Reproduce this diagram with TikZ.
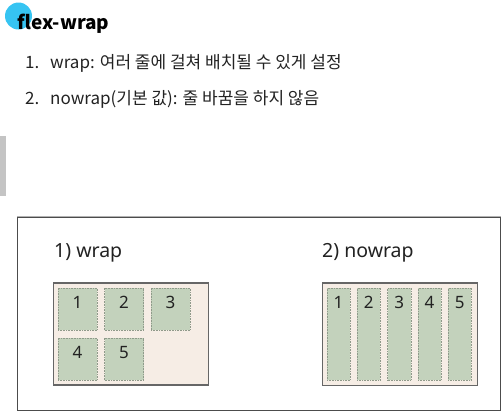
\documentclass[tikz,border=0pt]{standalone}
\usepackage{fontspec}
\setmainfont{Noto Sans}
\newfontfamily\kr{Noto Sans CJK KR}
\definecolor{titleblue}{HTML}{36C4F2}
\definecolor{barg}{HTML}{C4C4C4}
\definecolor{contfill}{HTML}{F6EDE5}
\definecolor{itemfill}{HTML}{C3D2BC}
\definecolor{itemline}{HTML}{8F9A8A}
\definecolor{txt}{HTML}{222222}
\begin{document}
\begin{tikzpicture}[x=1pt,y=-1pt,
  listtxt/.style={anchor=base west, inner sep=0pt, text=txt, font=\kr\fontsize{17}{20}\selectfont},
  cont/.style={draw=black!60, line width=1.2pt, fill=contfill, anchor=north west, inner sep=0pt},
  item/.style={draw=itemline, densely dotted, line width=0.6pt, fill=itemfill, anchor=north west, inner sep=0pt},
  num/.style={anchor=base, inner sep=0pt, text=txt, font=\fontsize{17}{20}\selectfont},
  caption/.style={anchor=base west, inner sep=0pt, text=txt, font=\fontsize{19.5}{23}\selectfont}]
\useasboundingbox (0,0) rectangle (504,413);
% title
\fill[titleblue] (18.5,16) circle (13.5);
\node[anchor=base west, inner sep=0pt, font=\kr\bfseries\fontsize{19}{23}\selectfont] (title) at (17,29) {flex-wrap};
% list
\node[listtxt] (n1) at (25,68) {1.};
\node[listtxt] (t1) at (50,68) {wrap: 여러 줄에 걸쳐 배치될 수 있게 설정};
\node[listtxt] (n2) at (25,104) {2.};
\node[listtxt] (t2) at (50,104) {nowrap(기본 값): 줄 바꿈을 하지 않음};
% gray bar
\fill[barg] (0,136) rectangle (6,196);
% outer box
\node[draw=black!70, line width=1.4pt, fill=white, anchor=north west, inner sep=0pt,
      minimum width=483, minimum height=193.5] (outer) at (17,216.5) {};
\draw[black!30, line width=1.4pt] (outer.north west) -- (outer.north east);
% captions
\node[caption] (c1) at (54,257) {1) wrap};
\node[caption] (c2) at (322,257) {2) nowrap};
% wrap container
\node[cont, minimum width=155, minimum height=102] (wc) at (52.7,282.3) {};
\foreach \n/\x/\y in {1/57.7/287.7, 2/104.3/287.7, 3/150.7/287.7, 4/57.7/337.7, 5/104.3/337.7}{
  \node[item, minimum width=39, minimum height=42.3] (w\n) at (\x,\y) {};
  \node[num] (wn\n) at ([yshift=-21pt]w\n.north) {\n};
}
% nowrap container
\node[cont, minimum width=155, minimum height=102.7] (nc) at (321.7,282.3) {};
\foreach \n/\x in {1/326.7, 2/356.9, 3/387.3, 4/417.7, 5/447.9}{
  \node[item, minimum width=23.2, minimum height=92.3] (u\n) at (\x,287.7) {};
  \node[num] (un\n) at ([yshift=-21pt]u\n.north) {\n};
}
\end{tikzpicture}
\end{document}
